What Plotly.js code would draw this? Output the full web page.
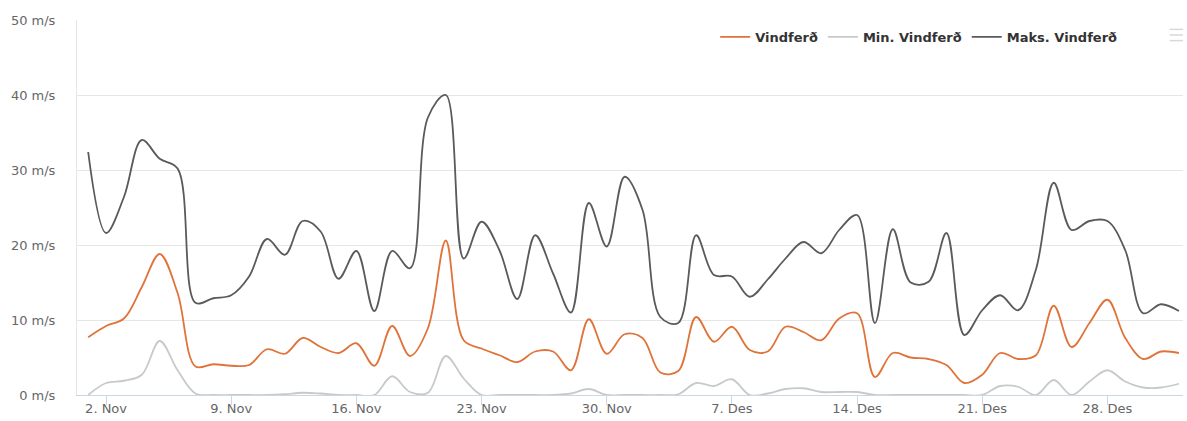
<!DOCTYPE html>
<html>
<head>
<meta charset="utf-8">
<script src="https://cdn.plot.ly/plotly-3.0.1.min.js"></script>
<style>
  html, body { margin: 0; padding: 0; background: #fff; }
  #chart { width: 1187px; height: 421px; }
</style>
</head>
<body>
<div id="chart"></div>
<script>
// Daily dates, 1 Nov to 1 Jan
const startDate = '2023-11-01';
const numDays = 62;

const vindferd = [7.7, 9.2, 10.2, 14.4, 18.8, 13.6, 3.8, 4.1, 3.9, 4.0,
  6.1, 5.5, 7.6, 6.4, 5.6, 6.9, 3.9, 9.2, 5.2, 8.9,
  20.6, 7.3, 6.2, 5.3, 4.4, 5.8, 5.8, 3.3, 10.1, 5.5,
  8.1, 7.6, 3.0, 3.2, 10.4, 7.1, 9.1, 6.0, 5.8, 9.1,
  8.4, 7.3, 10.2, 10.9, 2.4, 5.6, 5.0, 4.8, 4.0, 1.6,
  2.7, 5.6, 4.8, 5.3, 11.9, 6.4, 9.6, 12.7, 7.6, 4.8,
  5.8, 5.6];

const minVindferd = [0, 1.6, 1.9, 2.7, 7.2, 3.3, 0.2, 0, 0, 0,
  0, 0.1, 0.3, 0.2, 0, 0, 0, 2.5, 0.4, 0.3,
  5.2, 2.2, 0, 0, 0, 0, 0, 0.2, 0.8, 0,
  0, 0, 0, 0.1, 1.6, 1.2, 2.1, 0, 0.2, 0.8,
  0.9, 0.4, 0.4, 0.4, 0, 0, 0, 0, 0, 0,
  0, 1.2, 1.1, 0, 2.0, 0, 1.8, 3.3, 1.8, 1.0,
  1.0, 1.5];

const maksVindferd = [32.4, 21.6, 26.4, 34.0, 31.5, 30.2, 12.3, 12.9, 13.3, 15.8,
  20.8, 18.7, 23.2, 21.8, 15.5, 19.2, 11.2, 19.2, 16.9, 37.0,
  40.0, 18.2, 23.1, 19.3, 12.8, 21.3, 16.2, 11.0, 25.6, 19.8,
  29.1, 24.7, 10.4, 9.6, 21.3, 16.0, 15.8, 13.1, 15.4, 18.2,
  20.4, 18.9, 22.0, 24.0, 9.6, 22.1, 15.0, 15.1, 21.6, 8.0,
  11.3, 13.3, 11.3, 16.7, 28.3, 22.0, 23.2, 23.2, 19.3, 10.9,
  12.1, 11.2];

const tickDates = ['2023-11-02', '2023-11-09', '2023-11-16', '2023-11-23', '2023-11-30',
  '2023-12-07', '2023-12-14', '2023-12-21', '2023-12-28'];
const tickLabels = ['2. Nov', '9. Nov', '16. Nov', '23. Nov', '30. Nov',
  '7. Des', '14. Des', '21. Des', '28. Des'];

const yTicks = [0, 10, 20, 30, 40, 50];
const yLabels = ['0 m/s', '10 m/s', '20 m/s', '30 m/s', '40 m/s', '50 m/s'];

const dates = [];
{
  const d0 = new Date(startDate + 'T00:00:00Z');
  for (let i = 0; i < numDays; i++) {
    const d = new Date(d0.getTime() + i * 86400000);
    dates.push(d.toISOString().slice(0, 10));
  }
}

const font = 'DejaVu Sans, Verdana, sans-serif';

function trace(name, y, color) {
  return {
    type: 'scatter', mode: 'lines', name: name, x: dates, y: y,
    line: { color: color, width: 1.8, shape: 'spline', smoothing: 1 },
    hoverinfo: 'x+y'
  };
}

const data = [
  trace('Vindferð', vindferd, '#e0733a'),
  trace('Min. Vindferð', minVindferd, '#c9c9c9'),
  trace('Maks. Vindferð', maksVindferd, '#5a5a5a')
];

const layout = {
  width: 1187, height: 421,
  margin: { l: 77, r: 4, t: 20, b: 26 },
  paper_bgcolor: '#ffffff', plot_bgcolor: '#ffffff',
  font: { family: font, size: 13, color: '#666666' },
  showlegend: true,
  legend: {
    orientation: 'h', x: 0.945, xanchor: 'right', y: 0.955, yanchor: 'middle',
    font: { family: font, size: 13, color: '#333333', weight: 'bold' },
    bgcolor: 'rgba(0,0,0,0)', itemwidth: 30, tracegroupgap: 0
  },
  xaxis: {
    type: 'date',
    range: ['2023-10-31 09:00', '2024-01-01 05:30'],
    tickvals: tickDates, ticktext: tickLabels,
    ticks: 'outside', ticklen: 9, tickcolor: '#ccd6eb', tickwidth: 1,
    ticklabelstandoff: -8,
    showgrid: false, zeroline: false,
    showline: true, linecolor: '#ccd6eb', linewidth: 1,
    tickfont: { family: font, size: 13, color: '#666666' },
    fixedrange: true
  },
  yaxis: {
    range: [0, 50],
    tickvals: yTicks, ticktext: yLabels,
    showgrid: true, gridcolor: '#e6e6e6', gridwidth: 1,
    zeroline: false, showline: true, linecolor: '#e6e6e6', linewidth: 1,
    ticks: '', ticklabelstandoff: 18,
    tickfont: { family: font, size: 13, color: '#666666' },
    fixedrange: true
  },
  shapes: [
    { type: 'line', xref: 'paper', yref: 'paper', x0: 0.988, x1: 1.0, y0: 0.975, y1: 0.975, line: { color: '#d8d8d8', width: 1.5 } },
    { type: 'line', xref: 'paper', yref: 'paper', x0: 0.988, x1: 1.0, y0: 0.960, y1: 0.960, line: { color: '#d8d8d8', width: 1.5 } },
    { type: 'line', xref: 'paper', yref: 'paper', x0: 0.988, x1: 1.0, y0: 0.945, y1: 0.945, line: { color: '#d8d8d8', width: 1.5 } }
  ]
};

Plotly.newPlot('chart', data, layout, { displayModeBar: false, staticPlot: false });
</script>
</body>
</html>
